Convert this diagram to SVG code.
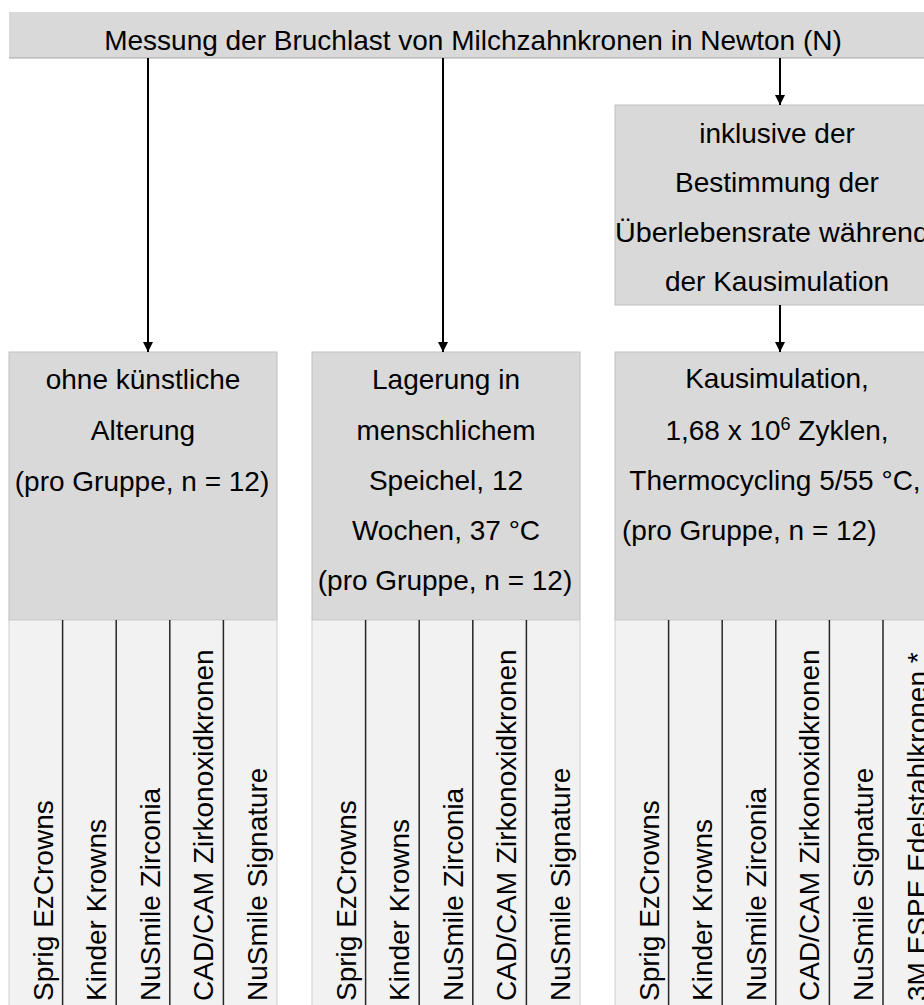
<svg xmlns="http://www.w3.org/2000/svg" width="924" height="1005" viewBox="0 0 924 1005">
<style>
  text { font-family: "Liberation Sans", Arial, sans-serif; font-size: 28px; fill: #000; }
  .c { text-anchor: middle; }
  .box { fill: #d9d9d9; stroke: #bfbfbf; stroke-width: 1; }
  .sub { fill: #f2f2f2; stroke: #cfcfcf; stroke-width: 1; }
  .div { stroke: #262626; stroke-width: 1.5; }
  .conn { stroke: #000; stroke-width: 2; fill: none; }
</style>
<defs>
  <marker id="arr" markerWidth="10" markerHeight="10" refX="10" refY="5" orient="auto" markerUnits="userSpaceOnUse">
    <path d="M0,0 L10,5 L0,10 Z" fill="#000"/>
  </marker>
</defs>
<rect width="924" height="1005" fill="#fff"/>

<g id="top">
  <rect x="9" y="12" width="940" height="46" fill="#d9d9d9"/>
  <line x1="9" y1="58" x2="949" y2="58" stroke="#a6a6a6" stroke-width="1.2"/>
  <text class="c" x="473" y="50">Messung der Bruchlast von Milchzahnkronen in Newton (N)</text>
</g>

<g id="survival">
  <rect class="box" x="615" y="105" width="330" height="200"/>
  <text class="c" x="777" y="143">inklusive der</text>
  <text class="c" x="777" y="192">Bestimmung der</text>
  <text x="615" y="242" textLength="314" lengthAdjust="spacingAndGlyphs">Überlebensrate während</text>
  <text class="c" x="777" y="291">der Kausimulation</text>
</g>

<g id="group1">
  <rect class="box" x="9" y="352" width="268" height="268"/>
  <rect class="sub" x="9" y="620" width="268" height="390"/>
  <text class="c" x="143" y="389">ohne künstliche</text>
  <text class="c" x="143" y="440">Alterung</text>
  <text class="c" x="142" y="491">(pro Gruppe, n = 12)</text>
  <g class="div">
    <line x1="62.6" y1="620" x2="62.6" y2="1005"/>
    <line x1="116.2" y1="620" x2="116.2" y2="1005"/>
    <line x1="169.8" y1="620" x2="169.8" y2="1005"/>
    <line x1="223.4" y1="620" x2="223.4" y2="1005"/>
  </g>
  <text transform="translate(52.5,1001) rotate(-90)">Sprig EzCrowns</text>
  <text transform="translate(106.1,1001) rotate(-90)">Kinder Krowns</text>
  <text transform="translate(159.7,1001) rotate(-90)">NuSmile Zirconia</text>
  <text transform="translate(213.3,1001) rotate(-90)">CAD/CAM Zirkonoxidkronen</text>
  <text transform="translate(266.9,1001) rotate(-90)">NuSmile Signature</text>
</g>

<g id="group2">
  <rect class="box" x="312" y="352" width="268" height="268"/>
  <rect class="sub" x="312" y="620" width="268" height="390"/>
  <text class="c" x="446" y="389">Lagerung in</text>
  <text class="c" x="446" y="440">menschlichem</text>
  <text class="c" x="446" y="490">Speichel, 12</text>
  <text class="c" x="446" y="540">Wochen, 37 °C</text>
  <text class="c" x="445" y="590">(pro Gruppe, n = 12)</text>
  <g class="div">
    <line x1="365.6" y1="620" x2="365.6" y2="1005"/>
    <line x1="419.2" y1="620" x2="419.2" y2="1005"/>
    <line x1="472.8" y1="620" x2="472.8" y2="1005"/>
    <line x1="526.4" y1="620" x2="526.4" y2="1005"/>
  </g>
  <text transform="translate(355.5,1001) rotate(-90)">Sprig EzCrowns</text>
  <text transform="translate(409.1,1001) rotate(-90)">Kinder Krowns</text>
  <text transform="translate(462.7,1001) rotate(-90)">NuSmile Zirconia</text>
  <text transform="translate(516.3,1001) rotate(-90)">CAD/CAM Zirkonoxidkronen</text>
  <text transform="translate(569.9,1001) rotate(-90)">NuSmile Signature</text>
</g>

<g id="group3">
  <rect class="box" x="615" y="352" width="330" height="268"/>
  <rect class="sub" x="615" y="620" width="330" height="390"/>
  <text class="c" x="777" y="388">Kausimulation,</text>
  <text class="c" x="777" y="440">1,68 x 10<tspan font-size="18" dy="-10">6</tspan><tspan dy="10"> Zyklen,</tspan></text>
  <text class="c" x="775" y="490">Thermocycling 5/55 °C,</text>
  <text x="622" y="540">(pro Gruppe, n = 12)</text>
  <g class="div">
    <line x1="668.6" y1="620" x2="668.6" y2="1005"/>
    <line x1="722.2" y1="620" x2="722.2" y2="1005"/>
    <line x1="775.8" y1="620" x2="775.8" y2="1005"/>
    <line x1="829.4" y1="620" x2="829.4" y2="1005"/>
    <line x1="883" y1="620" x2="883" y2="1005"/>
  </g>
  <text transform="translate(658.5,1001) rotate(-90)">Sprig EzCrowns</text>
  <text transform="translate(712.1,1001) rotate(-90)">Kinder Krowns</text>
  <text transform="translate(765.7,1001) rotate(-90)">NuSmile Zirconia</text>
  <text transform="translate(819.3,1001) rotate(-90)">CAD/CAM Zirkonoxidkronen</text>
  <text transform="translate(872.9,1001) rotate(-90)">NuSmile Signature</text>
  <text transform="translate(926.5,1001) rotate(-90)">3M ESPE Edelstahlkronen *</text>
</g>

<g id="connectors">
  <line class="conn" x1="148" y1="58" x2="148" y2="352" marker-end="url(#arr)"/>
  <line class="conn" x1="443" y1="58" x2="443" y2="352" marker-end="url(#arr)"/>
  <line class="conn" x1="780" y1="58" x2="780" y2="105" marker-end="url(#arr)"/>
  <line class="conn" x1="780" y1="305" x2="780" y2="352" marker-end="url(#arr)"/>
</g>
</svg>
